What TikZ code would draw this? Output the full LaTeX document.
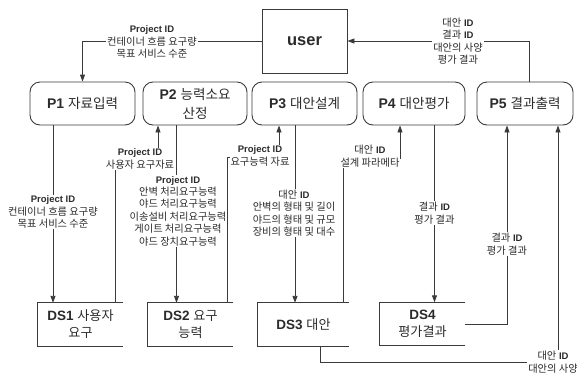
\documentclass[tikz,border=0pt]{standalone}
\usepackage{fontspec}
\setmainfont{Liberation Sans}
\newfontfamily\hgfont{Noto Sans CJK KR}[Scale=0.97]
\newfontfamily\hgsmallfont{Noto Sans CJK KR}[Scale=1.08]
\newcommand\hg[1]{{\hgfont #1}}
\usetikzlibrary{arrows.meta}

\definecolor{ink}{HTML}{2B2B2B}
\definecolor{wire}{HTML}{3A3A3A}

\tikzset{
  proc/.style={draw=wire, line width=0.9bp, rounded corners=10bp, align=center,
    minimum height=43bp, inner sep=1bp, text=ink,
    font=\fontsize{14bp}{19bp}\selectfont},
  store/.style={minimum height=43bp, align=center, inner sep=1bp, text=ink,
    font=\fontsize{13.5bp}{17bp}\selectfont},
  ext/.style={draw=wire, line width=0.9bp, minimum width=85bp, minimum height=64bp,
    text=ink, font=\fontsize{16.5bp}{20bp}\selectfont\bfseries},
  lbl/.style={fill=white, align=center, inner sep=0.8bp, text=ink,
    font=\fontsize{9.5bp}{12.4bp}\selectfont,
    execute at begin node={\let\hgfont\hgsmallfont}},
  wireline/.style={draw=wire, line width=0.9bp},
  arr/.style={wireline, -{Triangle[length=7bp,width=5bp]}},
}

\begin{document}
\begin{tikzpicture}[x=1bp, y=-1bp]
\useasboundingbox (0,0) rectangle (577,372);

% external entity
\node[ext] (user) at (304.5,41) {user};

% processes
\node[proc, minimum width=105bp] (p1) at (82.5,103.5) {\textbf{P1} \hg{자료입력}};
\node[proc, minimum width=104bp] (p2) at (195,103.5) {\textbf{P2} \hg{능력소요}\\\hg{산정}};
\node[proc, minimum width=105bp] (p3) at (304.5,103.5) {\textbf{P3} \hg{대안설계}};
\node[proc, minimum width=102bp] (p4) at (414,103.5) {\textbf{P4} \hg{대안평가}};
\node[proc, minimum width=96bp] (p5) at (525,103.5) {\textbf{P5} \hg{결과출력}};

% data stores (open on the right side)
\node[store, minimum width=85bp] (ds1) at (80.5,324.5) {\textbf{DS1} \hg{사용자}\\\hg{요구}};
\node[store, minimum width=85bp] (ds2) at (190.5,324.5) {\textbf{DS2} \hg{요구}\\\hg{능력}};
\node[store, minimum width=91bp] (ds3) at (303.5,324.5) {\textbf{DS3} \hg{대안}};
\node[store, minimum width=85bp] (ds4) at (422.5,324) {\textbf{DS4}\\\hg{평가결과}};
\foreach \s in {ds1,ds2,ds3,ds4}
  \draw[wireline] (\s.north east) -- (\s.north west) -- (\s.south west) -- (\s.south east);

% bend points and lanes
\coordinate (xa) at (53,0);
\coordinate (xb) at (176.5,0);
\coordinate (xc) at (295,0);
\coordinate (xd) at (434.5,0);
\coordinate (xe) at (507,0);
\coordinate (xf) at (529,0);
\coordinate (k1) at (115,159);
\coordinate (k2) at (158,159);
\coordinate (k3) at (227.5,157);
\coordinate (k4) at (279,157);
\coordinate (k5) at (343,158);
\coordinate (k6) at (400,158);
\coordinate (k7) at (320,362);
\coordinate (k8) at (558,362);

% flows
\draw[arr] (user.west) -| (p1.north);
\draw[arr] (p5.north -| xf) |- (user.east);
\draw[arr] (p1.south -| xa) -- (ds1.north -| xa);
\draw[arr] (p2.south -| xb) -- (ds2.north -| xb);
\draw[arr] (p3.south -| xc) -- (ds3.north -| xc);
\draw[arr] (p4.south -| xd) -- (ds4.north -| xd);
\draw[arr] (ds1.north -| k1) -- (k1) -- (k2) -- (p2.south -| k2);
\draw[arr] (ds2.north -| k3) -- (k3) -- (k4) -- (p3.south -| k4);
\draw[arr] (ds3.north -| k5) -- (k5) -- (k6) -- (p4.south -| k6);
\draw[arr] (ds4.east) -| (p5.south -| xe);
\draw[arr] (ds3.south -| k7) -- (k7) -- (k8) -- (p5.south -| k8);

% flow labels
\node[lbl] (l1) at (152,42) {\textbf{Project ID}\\\hg{컨테이너 흐름 요구량}\\\hg{목표 서비스 수준}};
\node[lbl] (l2) at (458,41) {\hg{대안} \textbf{ID}\\\hg{결과} \textbf{ID}\\\hg{대안의 사양}\\\hg{평가 결과}};
\node[lbl] (l3) at (53,212) {\textbf{Project ID}\\\hg{컨테이너 흐름 요구량}\\\hg{목표 서비스 수준}};
\node[lbl] (l4) at (140,159) {\textbf{Project ID}\\\hg{사용자 요구자료}};
\node[lbl] (l5) at (178,211) {\textbf{Project ID}\\\hg{안벽 처리요구능력}\\\hg{야드 처리요구능력}\\\hg{이송설비 처리요구능력}\\\hg{게이트 처리요구능력}\\\hg{야드 장치요구능력}};
\node[lbl] (l6) at (260,156) {\textbf{Project ID}\\\hg{요구능력 자료}};
\node[lbl] (l7) at (294,213) {\hg{대안} \textbf{ID}\\\hg{안벽의 형태 및 길이}\\\hg{야드의 형태 및 규모}\\\hg{장비의 형태 및 대수}};
\node[lbl] (l8) at (370,156) {\hg{대안} \textbf{ID}\\\hg{설계 파라메타}};
\node[lbl] (l9) at (434.5,213) {\hg{결과} \textbf{ID}\\\hg{평가 결과}};
\node[lbl] (l10) at (507,244) {\hg{결과} \textbf{ID}\\\hg{평가 결과}};
\node[lbl] (l11) at (553,362) {\hg{대안} \textbf{ID}\\\hg{대안의 사양}};
\end{tikzpicture}
\end{document}
